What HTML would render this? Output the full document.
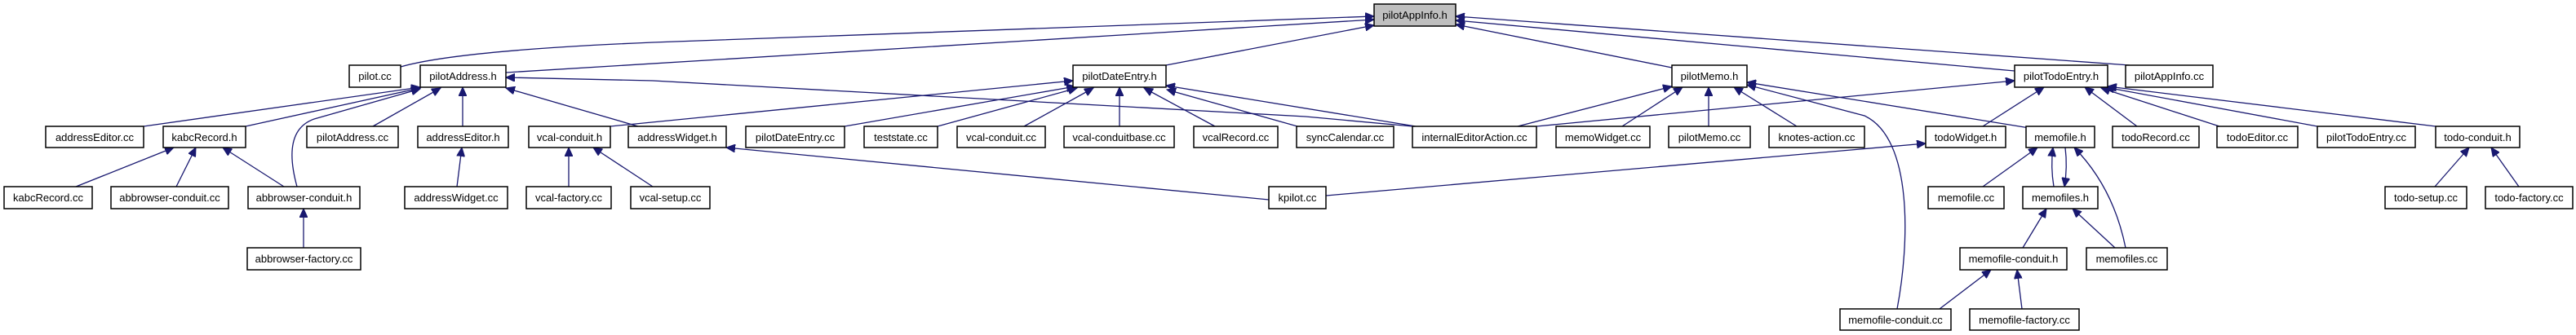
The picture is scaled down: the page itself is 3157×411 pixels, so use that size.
<!DOCTYPE html>
<html><head><meta charset="utf-8"><style>
html,body{margin:0;padding:0;background:#fff}
svg{display:block}
text{font-family:"Liberation Sans",Arial,sans-serif;font-size:13px;fill:#000}
.e{fill:none;stroke:#191970;stroke-width:1.3}
.b{fill:#fff;stroke:#000;stroke-width:1.5}
</style></head><body>
<svg width="3157" height="411" viewBox="0 0 3157 411" xmlns="http://www.w3.org/2000/svg">
<defs><marker id="a" markerUnits="userSpaceOnUse" markerWidth="12" markerHeight="10" refX="11" refY="5" orient="auto"><path d="M0,0 L11,5 L0,10 z" fill="#191970" stroke="#191970"/></marker></defs>
<g class="e" marker-end="url(#a)">
<path d="M491,82 Q560,62 800,52 L1684,20"/>
<path d="M620,89 L1684,24"/>
<path d="M1429,80 L1684,31"/>
<path d="M2049,83 L1784,30"/>
<path d="M2469,87 L1784,25"/>
<path d="M2610,80 L1784,20"/>
<path d="M176,155 L515,107"/>
<path d="M301,155 L515,108"/>
<path d="M364,229 Q345,160 385,146 L515,109"/>
<path d="M457,155 L540,108"/>
<path d="M567,155 L567,107"/>
<path d="M782,155 L620,108"/>
<path d="M1731,155 L1600,143 L800,99 L620,95"/>
<path d="M93,229 L213,181"/>
<path d="M216,229 L240,181"/>
<path d="M348,229 L273,181"/>
<path d="M372,304 L372,256"/>
<path d="M560,229 L566,181"/>
<path d="M748,155 L1315,99"/>
<path d="M1035,155 L1318,106"/>
<path d="M1149,155 L1320,108"/>
<path d="M1255,155 L1340,108"/>
<path d="M1372,155 L1372,107"/>
<path d="M1489,155 L1402,108"/>
<path d="M1590,155 L1430,110"/>
<path d="M1735,155 L1429,105"/>
<path d="M1555,245 L890,181"/>
<path d="M697,229 L697,181"/>
<path d="M800,229 L727,181"/>
<path d="M1860,155 L2049,106"/>
<path d="M1988,155 L2062,107"/>
<path d="M2094,155 L2094,107"/>
<path d="M2202,155 L2125,107"/>
<path d="M2487,157 L2141,101"/>
<path d="M2325,379 C2340,300 2345,170 2285,142 L2141,104"/>
<path d="M1883,155 L2469,99"/>
<path d="M2430,155 L2505,107"/>
<path d="M2619,155 L2555,107"/>
<path d="M2720,155 L2575,108"/>
<path d="M2840,155 L2580,107"/>
<path d="M2985,155 L2583,106"/>
<path d="M1625,240 L2360,176"/>
<path d="M2430,229 L2497,181"/>
<path d="M2517,229 Q2513,205 2516,181"/>
<path d="M2531,181 Q2534,205 2530,229"/>
<path d="M2605,304 Q2590,230 2542,181"/>
<path d="M2479,304 L2508,256"/>
<path d="M2592,304 L2540,256"/>
<path d="M2377,379 L2440,331"/>
<path d="M2478,379 L2472,331"/>
<path d="M2984,229 L3026,181"/>
<path d="M3087,229 L3053,181"/>
</g>
<g text-anchor="middle">
<rect x="1684" y="5" width="100" height="27" fill="#bfbfbf" stroke="#000" stroke-width="1.5"/><text x="1734" y="23">pilotAppInfo.h</text>
<rect class="b" x="428" y="80" width="63" height="27"/><text x="459.5" y="98">pilot.cc</text>
<rect class="b" x="515" y="80" width="105" height="27"/><text x="567.5" y="98">pilotAddress.h</text>
<rect class="b" x="1315" y="80" width="114" height="27"/><text x="1372" y="98">pilotDateEntry.h</text>
<rect class="b" x="2049" y="80" width="92" height="27"/><text x="2095" y="98">pilotMemo.h</text>
<rect class="b" x="2469" y="80" width="114" height="27"/><text x="2526" y="98">pilotTodoEntry.h</text>
<rect class="b" x="2605" y="80" width="107" height="27"/><text x="2658.5" y="98">pilotAppInfo.cc</text>

<rect class="b" x="56" y="155" width="120" height="26"/><text x="116" y="173">addressEditor.cc</text>
<rect class="b" x="200" y="155" width="101" height="26"/><text x="250.5" y="173">kabcRecord.h</text>
<rect class="b" x="376" y="155" width="112" height="26"/><text x="432" y="173">pilotAddress.cc</text>
<rect class="b" x="512" y="155" width="111" height="26"/><text x="567.5" y="173">addressEditor.h</text>
<rect class="b" x="648" y="155" width="100" height="26"/><text x="698" y="173">vcal-conduit.h</text>
<rect class="b" x="770" y="155" width="120" height="26"/><text x="830" y="173">addressWidget.h</text>
<rect class="b" x="914" y="155" width="121" height="26"/><text x="974.5" y="173">pilotDateEntry.cc</text>
<rect class="b" x="1059" y="155" width="90" height="26"/><text x="1104" y="173">teststate.cc</text>
<rect class="b" x="1173" y="155" width="108" height="26"/><text x="1227" y="173">vcal-conduit.cc</text>
<rect class="b" x="1304" y="155" width="135" height="26"/><text x="1371.5" y="173">vcal-conduitbase.cc</text>
<rect class="b" x="1463" y="155" width="103" height="26"/><text x="1514.5" y="173">vcalRecord.cc</text>
<rect class="b" x="1589" y="155" width="119" height="26"/><text x="1648.5" y="173">syncCalendar.cc</text>
<rect class="b" x="1731" y="155" width="152" height="26"/><text x="1807" y="173">internalEditorAction.cc</text>
<rect class="b" x="1907" y="155" width="115" height="26"/><text x="1964.5" y="173">memoWidget.cc</text>
<rect class="b" x="2045" y="155" width="100" height="26"/><text x="2095" y="173">pilotMemo.cc</text>
<rect class="b" x="2168" y="155" width="117" height="26"/><text x="2226.5" y="173">knotes-action.cc</text>
<rect class="b" x="2360" y="155" width="98" height="26"/><text x="2409" y="173">todoWidget.h</text>
<rect class="b" x="2483" y="155" width="84" height="26"/><text x="2525" y="173">memofile.h</text>
<rect class="b" x="2589" y="155" width="106" height="26"/><text x="2642" y="173">todoRecord.cc</text>
<rect class="b" x="2717" y="155" width="99" height="26"/><text x="2766.5" y="173">todoEditor.cc</text>
<rect class="b" x="2840" y="155" width="120" height="26"/><text x="2900" y="173">pilotTodoEntry.cc</text>
<rect class="b" x="2985" y="155" width="103" height="26"/><text x="3036.5" y="173">todo-conduit.h</text>

<rect class="b" x="5" y="229" width="108" height="27"/><text x="59" y="247">kabcRecord.cc</text>
<rect class="b" x="136" y="229" width="144" height="27"/><text x="208" y="247">abbrowser-conduit.cc</text>
<rect class="b" x="304" y="229" width="137" height="27"/><text x="372.5" y="247">abbrowser-conduit.h</text>
<rect class="b" x="496" y="229" width="126" height="27"/><text x="559" y="247">addressWidget.cc</text>
<rect class="b" x="645" y="229" width="104" height="27"/><text x="697" y="247">vcal-factory.cc</text>
<rect class="b" x="773" y="229" width="97" height="27"/><text x="821.5" y="247">vcal-setup.cc</text>
<rect class="b" x="1555" y="229" width="70" height="27"/><text x="1590" y="247">kpilot.cc</text>
<rect class="b" x="2363" y="229" width="93" height="27"/><text x="2409.5" y="247">memofile.cc</text>
<rect class="b" x="2479" y="229" width="92" height="27"/><text x="2525" y="247">memofiles.h</text>
<rect class="b" x="2923" y="229" width="100" height="27"/><text x="2973" y="247">todo-setup.cc</text>
<rect class="b" x="3046" y="229" width="107" height="27"/><text x="3099.5" y="247">todo-factory.cc</text>

<rect class="b" x="303" y="304" width="139" height="27"/><text x="372.5" y="322">abbrowser-factory.cc</text>
<rect class="b" x="2402" y="304" width="131" height="27"/><text x="2467.5" y="322">memofile-conduit.h</text>
<rect class="b" x="2557" y="304" width="99" height="27"/><text x="2606.5" y="322">memofiles.cc</text>

<rect class="b" x="2255" y="379" width="136" height="26"/><text x="2323" y="397">memofile-conduit.cc</text>
<rect class="b" x="2414" y="379" width="134" height="26"/><text x="2481" y="397">memofile-factory.cc</text>
</g>
</svg>
</body></html>
